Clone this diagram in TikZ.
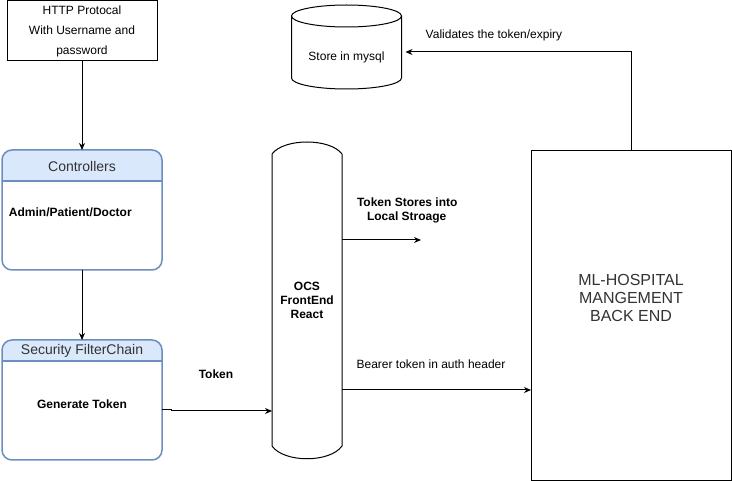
\documentclass[tikz,border=0pt]{standalone}
\usepackage{fontspec}
\setmainfont{Liberation Sans}
\usetikzlibrary{arrows.meta}
\definecolor{hdrfill}{HTML}{DAE8FC}
\definecolor{hdrline}{HTML}{6C8EBF}
\definecolor{txtgray}{HTML}{333333}
\begin{document}
\begin{tikzpicture}[x=1pt,y=-1pt,
  every node/.style={font=\fontsize{12}{14}\selectfont, inner sep=0pt, outer sep=0pt},
  ln/.style={draw=black, line width=1pt},
  arr/.style={ln, -{Stealth[length=7pt,width=6pt]}},
  plainbox/.style={ln, fill=white},
  swim/.style={draw=hdrline, line width=1.5pt, rounded corners=10pt, minimum width=160pt, minimum height=120pt},
  hdrtext/.style={font=\fontsize{14}{16}\selectfont, text=txtgray},
  boldtext/.style={font=\bfseries\fontsize{12}{14}\selectfont},
  ghost/.style={draw=none, fill=none}]
\useasboundingbox[fill=white] (0,0) rectangle (732,481);

% HTTP box
\node[plainbox, minimum width=150pt, minimum height=60pt, align=center,
      font=\fontsize{12}{20}\selectfont] (http) at (82,31) {HTTP Protocal\\With Username and\\password};

% Controllers swimlane
\begin{scope}
  \clip (0,0) rectangle (200,181);
  \fill[hdrfill, rounded corners=10pt] (2,150) rectangle (162,270);
\end{scope}
\node[swim] (ctrl) at (82,210) {};
\draw[draw=hdrline, line width=1.5pt] (ctrl.west |- 0,181) -- (ctrl.east |- 0,181);
\node[hdrtext] (ctrlh) at (82,166) {Controllers};
\node[boldtext, anchor=west] (ctrlt) at (9,212) {Admin/Patient/Doctor};

% Security FilterChain swimlane
\begin{scope}
  \clip (0,300) rectangle (200,361);
  \fill[hdrfill, rounded corners=10pt] (2,340) rectangle (162,460);
\end{scope}
\node[swim] (sec) at (82,400) {};
\draw[draw=hdrline, line width=1.5pt] (sec.west |- 0,361) -- (sec.east |- 0,361);
\node[hdrtext] (sech) at (82,351) {Security FilterChain};
\node[boldtext] (sect) at (82,404) {Generate Token};

% FrontEnd drum
\node[ghost, minimum width=70pt, minimum height=292pt] (fe) at (307,300) {};
\draw[ln, fill=white] (272,154) .. controls (284,138) and (330,138) .. (342,154)
   -- (342,446) .. controls (330,463) and (284,463) .. (272,446) -- cycle;
\node[boldtext, align=center] (fet) at (307,300) {OCS\\FrontEnd\\React};

% Back end
\node[plainbox, minimum width=200pt, minimum height=329pt] (be) at (631,315.5) {};
\node[align=center, font=\fontsize{16}{18}\selectfont, text=txtgray] (bet) at (631,298) {ML-HOSPITAL\\MANGEMENT\\BACK END};

% Database cylinder
\node[ghost, minimum width=110pt, minimum height=84pt] (db) at (346.5,47) {};
\draw[ln, fill=white] (291.5,16) -- (291.5,78)
   arc[start angle=180, end angle=360, x radius=55pt, y radius=11pt] -- (401.5,16);
\draw[ln] (346.5,16) ellipse [x radius=55pt, y radius=11pt];
\node (dbt) at (346.5,57) {Store in mysql};

% Connectors
\draw[arr] (http.south) -- (ctrl.north);
\draw[arr] (ctrl.south) -- (sec.north);
\draw[arr] (sec.east |- 0,410) -- (171,410) -- (171,411) -- (fe.west |- 0,411);
\coordinate (ls) at (421,240);
\draw[arr] (fe.east |- ls) -- (ls);
\draw[arr] (fe.east |- 0,390) -- (be.west |- 0,390);
\draw[arr, shorten >=4pt] (be.north) |- (db.east |- 0,52);

% Labels
\node[boldtext] (ltok) at (216,374) {Token};
\node[boldtext, align=left, anchor=west] (lstore) at (357,210) {Token Stores into\\\hspace*{10pt}Local Stroage};
\node (lbear) at (431,364) {Bearer token in auth header};
\node (lval) at (494,35) {Validates the token/expiry};
\end{tikzpicture}
\end{document}
